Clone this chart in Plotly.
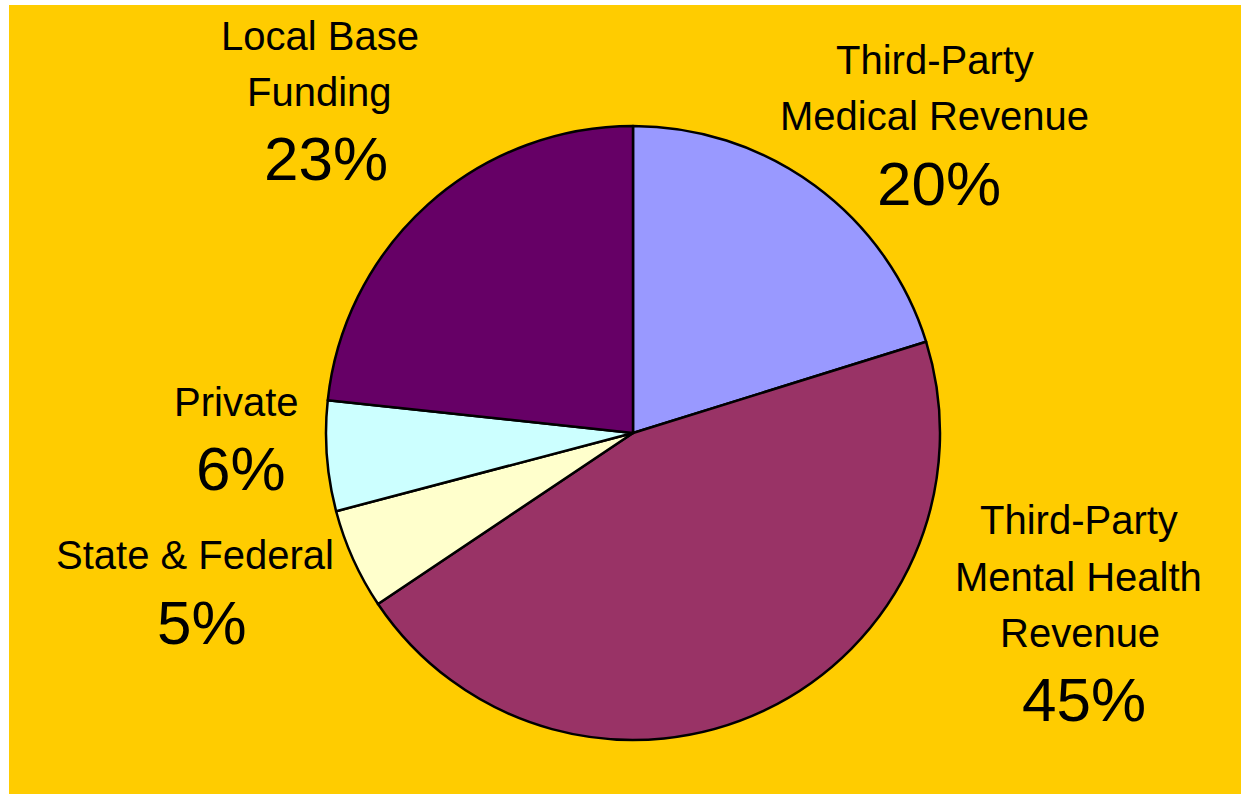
import plotly.graph_objects as go

# Data
categories = ["Third-Party Medical Revenue", "Third-Party Mental Health Revenue",
              "State & Federal", "Private", "Local Base Funding"]
label_lines = [["Third-Party", "Medical Revenue"],
               ["Third-Party", "Mental Health", "Revenue"],
               ["State & Federal"],
               ["Private"],
               ["Local Base", "Funding"]]
values = [20.2, 45.4, 5.3, 5.8, 23.3]
colors = ["#9999FF", "#993366", "#FFFFCC", "#CCFFFF", "#660066"]

W, H = 1241, 794
BG = "#FFCC00"
FONT = "Liberation Sans, Arial, sans-serif"

# Label placement (pixel centres of each text line, then the percent)
name_pos = [[(935, 60), (934, 116)],
            [(1079, 520), (1078, 577), (1080, 633)],
            [(195, 555)],
            [(236, 402)],
            [(320, 36), (320, 92)]]
pct_pos = [(939, 183), (1084, 699), (202, 622), (241, 469), (326, 158)]

cx, cy, r = 633, 433, 307

fig = go.Figure(go.Pie(
    labels=categories,
    values=values,
    sort=False,
    direction="clockwise",
    rotation=0,
    marker=dict(colors=colors, line=dict(color="black", width=2.5)),
    textinfo="none",
    hoverinfo="label+percent",
    showlegend=False,
    domain=dict(x=[(cx - r) / W, (cx + r) / W],
                y=[(H - cy - r) / H, (H - cy + r) / H]),
))

total = sum(values)
annotations = []
for lines, poss, v, pp in zip(label_lines, name_pos, values, pct_pos):
    for line, (px, py) in zip(lines, poss):
        annotations.append(dict(text=line, x=px / W, y=1 - py / H, xref="paper", yref="paper",
                                xanchor="center", yanchor="middle", showarrow=False,
                                font=dict(family=FONT, size=40, color="black")))
    annotations.append(dict(text=f"{round(v / total * 100)}%", x=pp[0] / W, y=1 - pp[1] / H,
                            xref="paper", yref="paper", xanchor="center", yanchor="middle",
                            showarrow=False,
                            font=dict(family=FONT, size=62, color="black")))

fig.update_layout(
    width=W, height=H,
    margin=dict(l=0, r=0, t=0, b=0),
    paper_bgcolor="white",
    plot_bgcolor="white",
    shapes=[dict(type="rect", xref="paper", yref="paper", x0=9 / W, x1=1, y0=0, y1=1 - 5 / H,
                 fillcolor=BG, line=dict(width=0), layer="below")],
    annotations=annotations,
)

fig.write_html("out.html",
               config={"displayModeBar": False},
               post_script="document.body.style.margin='0';document.body.style.overflow='hidden';")
